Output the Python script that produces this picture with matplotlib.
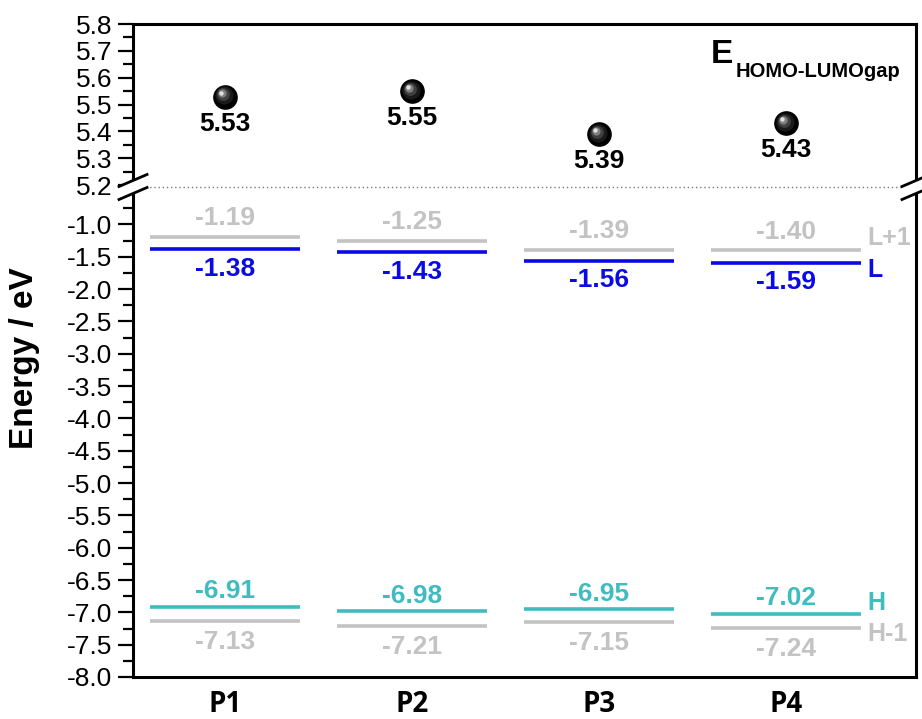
import matplotlib
matplotlib.use("Agg")
import matplotlib.pyplot as plt
from matplotlib.lines import Line2D
from matplotlib.patches import Polygon
from matplotlib.transforms import offset_copy
import numpy as np

plt.rcParams['font.family'] = ['Liberation Sans', 'DejaVu Sans']
plt.rcParams['axes.unicode_minus'] = False

# ---------------- data ----------------
categories = ['P1', 'P2', 'P3', 'P4']
gap = [5.53, 5.55, 5.39, 5.43]
lumo_plus1 = [-1.19, -1.25, -1.39, -1.40]
lumo = [-1.38, -1.43, -1.56, -1.59]
homo = [-6.91, -6.98, -6.95, -7.02]
homo_minus1 = [-7.13, -7.21, -7.15, -7.24]
top_ticks = [5.2, 5.3, 5.4, 5.5, 5.6, 5.7, 5.8]
bottom_ticks = [-8.0, -7.5, -7.0, -6.5, -6.0, -5.5, -5.0, -4.5, -4.0,
                -3.5, -3.0, -2.5, -2.0, -1.5, -1.0]

GRAY = '#c3c3c3'
BLUE = '#0a0ae6'
CYAN = '#3fbcc0'

W, H = 922, 719
fig = plt.figure(figsize=(W / 100, H / 100), dpi=100)


def fx(px):
    return px / W


def fy(py):
    return 1 - py / H


x_left, x_right = 133, 916
y_top, y_break, y_bottom = 24, 187, 677
ax_top = fig.add_axes([fx(x_left), fy(y_break), fx(x_right) - fx(x_left), (y_break - y_top) / H])
ax_bot = fig.add_axes([fx(x_left), fy(y_bottom), fx(x_right) - fx(x_left), (y_bottom - y_break) / H])

x = np.arange(1, len(categories) + 1)
half = 0.40
for ax in (ax_top, ax_bot):
    ax.set_xlim(0.508, 4.695)
    for s in ax.spines.values():
        s.set_linewidth(2.2)

ax_top.set_ylim(5.193, 5.8)
ax_bot.set_ylim(-8.0, -0.42)

ax_top.spines['bottom'].set_visible(False)
ax_bot.spines['top'].set_visible(False)

# ticks
ax_top.set_yticks(top_ticks)
ax_top.set_yticks(np.arange(5.25, 5.8, 0.1), minor=True)
ax_top.set_yticklabels([f'{t:.1f}' for t in top_ticks])
ax_top.set_xticks([])
ax_bot.set_yticks(bottom_ticks)
ax_bot.set_yticks(np.arange(-7.75, -0.7, 0.5), minor=True)
ax_bot.set_yticklabels([f'{t:.1f}' for t in bottom_ticks])
ax_bot.set_xticks(x)
ax_bot.set_xticklabels(categories, fontfamily='Open Sans', fontweight='bold', fontsize=20)
ax_bot.tick_params(axis='x', length=0, pad=9)
for ax in (ax_top, ax_bot):
    ax.tick_params(axis='y', which='major', direction='out', length=11, width=1.6,
                   labelsize=19, pad=4)
    ax.tick_params(axis='y', which='minor', direction='out', length=7, width=1.6)

# energy levels
def levels(vals, color):
    ax_bot.hlines(vals, x - half, x + half, colors=color, linewidth=2.6, zorder=3)

levels(lumo_plus1, GRAY)
levels(lumo, BLUE)
levels(homo, CYAN)
levels(homo_minus1, GRAY)

def labels(vals, color, dy):
    for xi, v in zip(x, vals):
        ax_bot.annotate(f'{v:.2f}', (xi, v), xytext=(0, dy), textcoords='offset points',
                        ha='center', va='center', color=color, fontsize=19,
                        fontweight='bold')

labels(lumo_plus1, GRAY, 13.5)
labels(lumo, BLUE, -14)
labels(homo, CYAN, 11)
labels(homo_minus1, GRAY, -15)

# right-side orbital names
names = [('L+1', lumo_plus1[-1], GRAY, 9), ('L', lumo[-1], BLUE, -5.5),
         ('H', homo[-1], CYAN, 7.5), ('H-1', homo_minus1[-1], GRAY, -4.5)]
for txt, v, c, dy in names:
    ax_bot.annotate(txt, (x[-1] + half, v), xytext=(5, dy), textcoords='offset points',
                    ha='left', va='center', color=c, fontsize=18, fontweight='bold')

# gap spheres
ax_top.scatter(x, gap, s=280, color='black', zorder=3)
for dx, dy, s, c in [(-0.8, 0.8, 170, '#1a1a1a'), (-1.6, 1.6, 85, '#404040'),
                     (-2.3, 2.3, 35, '#808080'), (-2.8, 2.8, 10, '#e0e0e0')]:
    tr = offset_copy(ax_top.transData, fig=fig, x=dx, y=dy, units='points')
    ax_top.scatter(x, gap, s=s, color=c, transform=tr, zorder=4, linewidths=0)
for xi, v in zip(x, gap):
    ax_top.annotate(f'{v:.2f}', (xi, v), xytext=(0, -19.5), textcoords='offset points',
                    ha='center', va='center', color='black', fontsize=19,
                    fontweight='bold')

# title E_HOMO-LUMOgap
fig.text(fx(711), fy(63), 'E', fontsize=24, fontweight='bold', va='baseline', ha='left')
fig.text(fx(736), fy(77), 'HOMO-LUMOgap', fontsize=14.5, fontweight='bold',
         va='baseline', ha='left')

# y label
fig.text(fx(25), fy(358), 'Energy / eV', rotation=90, fontsize=24, fontweight='bold',
         ha='center', va='center')

# dotted break line
fig.add_artist(Line2D([fx(x_left), fx(x_right)], [fy(y_break), fy(y_break)],
                      color='#777777', linewidth=1.0, linestyle=(0, (1, 2))))

# break marks
def break_mark(cx):
    hw, hh = 14, 6
    up, lo = y_break - 6.5, y_break + 6.5
    poly = [(fx(cx - hw), fy(up + hh)), (fx(cx + hw), fy(up - hh)),
            (fx(cx + hw), fy(lo - hh)), (fx(cx - hw), fy(lo + hh))]
    fig.add_artist(Polygon(poly, closed=True, facecolor='white', edgecolor='none', zorder=10))
    for yc in (up, lo):
        fig.add_artist(Line2D([fx(cx - hw), fx(cx + hw)], [fy(yc + hh), fy(yc - hh)],
                              color='black', linewidth=2.0, zorder=11))

break_mark(x_left)
break_mark(x_right)

fig.savefig('out.png', dpi=100)
